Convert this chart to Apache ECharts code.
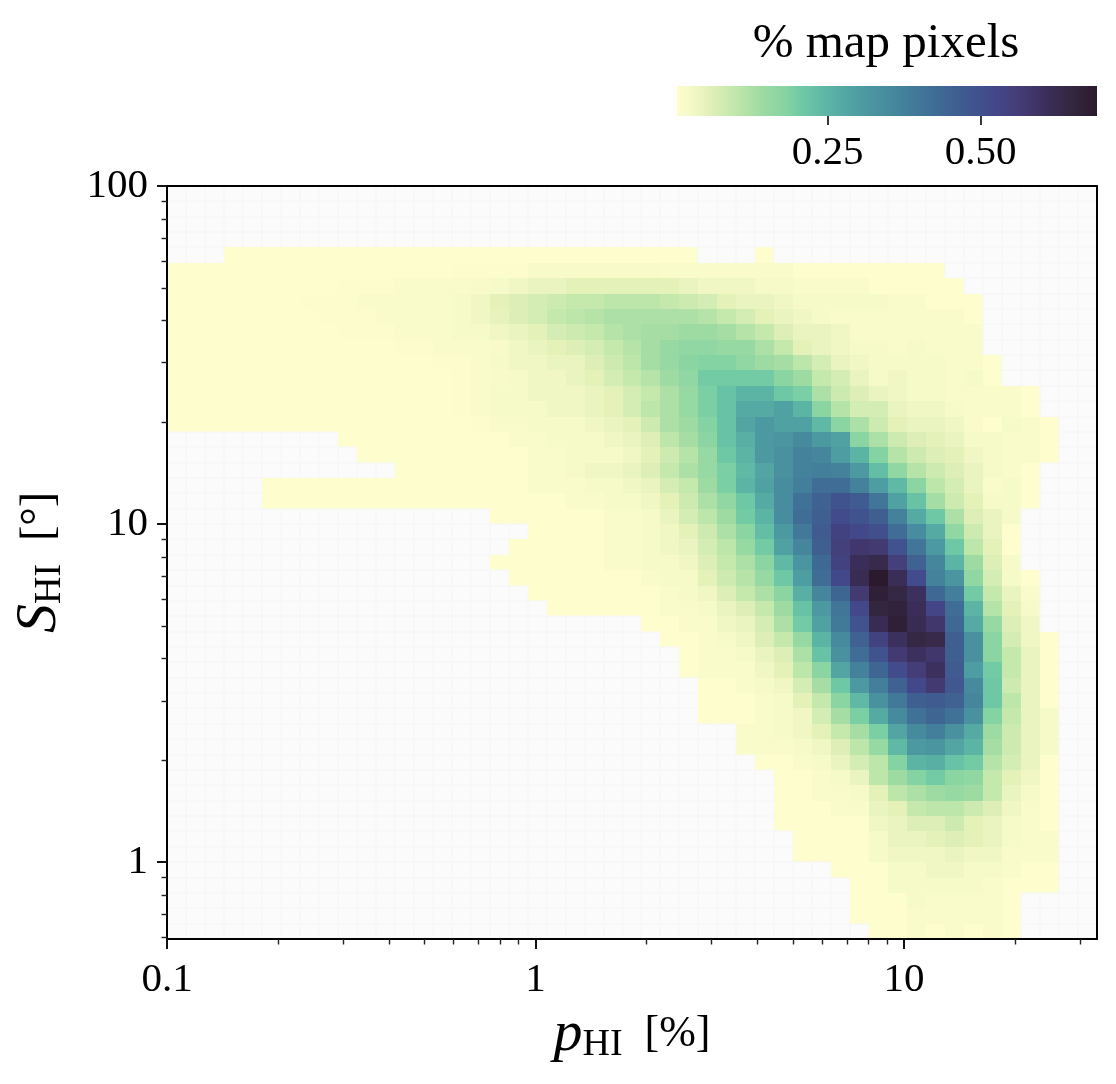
<!DOCTYPE html>
<html><head><meta charset="utf-8">
<style>html,body{margin:0;padding:0;background:#fff}#c{width:1116px;height:1084px}</style>
<script src="https://cdn.jsdelivr.net/npm/echarts@6/dist/echarts.min.js"></script>
</head><body><div id="c"></div>
<script>
// Axis definitions
const xRange = [0.1, 33.4];
const yRange = [0.592, 100];
const colCount = 49;
const rowCount = 49;
const xMajor = [0.1, 1, 10];
const xMinor = [0.2,0.3,0.4,0.5,0.6,0.7,0.8,0.9,2,3,4,5,6,7,8,9,20,30];
const yMajor = [1, 10, 100];
const yMinor = [0.6,0.7,0.8,0.9,2,3,4,5,6,7,8,9,20,30,40,50,60,70,80,90];
const barTicks = [0.25, 0.5];
const barRange = [0.004, 0.69];
const rampColors = ['#fdfdcd','#f6f9c8','#eef6c2','#e0f0b8','#cdebb0','#b5e3a8','#9edba3','#85d3a2','#72cba5','#5fb8a5','#52a5a3','#4a95a0','#44829c','#3f6d96','#3f5b90','#43488b','#443a72','#3a2e58','#33263f','#2b1a2e'];
const rampStops = [0,.029,.05,.08,.116,.16,.2,.26,.29,.35,.405,.464,.536,.61,.68,.754,.826,.884,.942,1];
// Share of map pixels in hundredths of a percent, top row first; cell omitted = no pixels.
// rowStart: index of the first filled column in each row.
const rowStart = [0,0,0,0,3,0,0,0,0,0,0,0,0,0,0,0,9,10,12,5,5,17,19,18,17,18,19,20,25,26,27,27,28,28,28,30,30,31,32,32,32,32,33,33,35,36,36,36,37];
const N = null;
const rowValues = [
[],[],[],[],
[0,0,0,0,0,0,0,0,0,0,0,0,0,0,0,0,0,0,0,0,0,0,0,0,0,N,N,N,0],
[0,0,0,0,0,0,0,0,0,0,0,0,0,0,0,.5,.5,.5,.5,1.5,1.5,1.5,1.5,1.5,1.5,1.5,1,1,1,1,1,1,1,0,0,0,0,0,0,0,0],
[0,0,0,0,0,0,0,0,0,.5,.5,.5,1,1,1,1,1.5,2,3,4,4,5,5,5,5,5,5,4,3,3,3,2,2,1,1,1,1,0,0,0,0,0],
[0,0,0,0,0,0,0,.5,.5,.5,1,1,1,1,1,2,3,5,6,7,8,9,9,10,10,10,9,8,7,5,4,4,3,2,2,2,2,2,1,1,0,0,0],
[0,0,0,0,0,0,0,0,.5,.5,.5,1,1,1,1,2,3,4.5,6,7,9,10,11,12,12,12,12,12,11,9,7,5,4,3,2,1,1,1,1,1,1,1,0],
[0,0,0,0,0,0,0,0,0,.5,.5,.5,1,1,1,2,2,3,4,5,7,8,9,11,12,13,13,14,14,13,11,9,6,4,4,3,1,1,1,1,1,1,1],
[0,0,0,0,0,0,0,0,0,0,0,0,.5,.5,1,1,1,1.5,3,4,5,6,7,9,11,13,15,16,16,15,15,12,9,5,4,3,2,2,1,2,1,1,1],
[0,0,0,0,0,0,0,0,0,0,0,0,0,0,.5,.5,1,2,3,3,4,4,6,8,10,13,15,17,18,18,16,14,13,10,7,4,3,2,2,2,2,1,1,0],
[0,0,0,0,0,0,0,0,0,0,0,0,0,0,0,.5,1,1.5,2,3,3,4,5,7,9,11,14,16,20,20,20,20,17,14,9,7,4,2,3,2,2,1,2,0],
[0,0,0,0,0,0,0,0,0,0,0,0,0,0,0,.5,1,2,2,3,3,3,4,5,7,9,12,15,19,22,25,25,21,19,12,8,6,4,3,2,2,1,1,1,1,0],
[0,0,0,0,0,0,0,0,0,0,0,0,0,0,0,.5,1,2,2,2,3,3,4,5,7,10,12,15,19,22,27,27,29,25,17,11,7,7,4,3,3,2,1,1,1,0],
[0,0,0,0,0,0,0,0,0,0,0,0,0,0,0,0,.5,1,1,2,2,2,3,4,5,8,12,14,18,22,28,31,29,29,24,17,12,8,5,4,4,3,1,0,2,1,0],
[0,0,0,0,0,0,0,0,0,1,1,2,2,2,3,4,6,10,13,17,22,26,31,32,35,31,29,17,12,8,6,5,4,2,2,1,1,0],
[0,0,0,0,0,0,0,0,0,1,1,2,2,2,3,5,8,11,15,21,25,31,33,37,36,30,25,18,11,8,6,5,3,2,1,1,0],
[0,0,0,0,0,0,0,1,1,2,3,3,4,6,9,12,15,19,24,28,33,37,38,37,31,23,16,11,8,6,4,2,1,0],
[0,0,0,0,0,0,0,0,0,0,0,0,0,0,1,1,1,2,2,3,4,7,9,14,19,25,29,34,38,42,42,37,30,24,17,10,7,4,1,2,0],
[0,0,0,0,0,0,0,0,0,0,0,0,0,0,0,0,1,1,2,2,3,5,8,12,16,21,27,34,41,45,49,47,40,29,22,13,8,5,2,2,0],
[0,0,0,0,0,0,1,1,2,4,7,10,14,20,25,34,42,46,51,49,46,37,27,21,12,6,4,2],
[0,0,0,0,1,1,2,3,5,8,12,17,23,31,39,47,54,52,50,42,34,27,16,8,4,0],
[0,0,0,0,0,1,1,2,3,4,7,10,15,20,29,36,46,55,58,57,49,40,31,21,10,5,0],
[0,0,0,0,0,0,1,1,2,2,3,6,9,12,17,24,32,43,54,61,63,55,45,36,25,14,6,2],
[0,0,0,0,0,0,0,1,2,2,5,8,11,15,21,30,42,52,62,69,61,51,37,32,16,7,2,0],
[0,0,0,0,0,0,0,1,2,3,6,9,12,17,26,36,44,57,67,64,60,43,38,20,9,4,1],
[0,0,0,0,0,0,1,1,2,4,6,9,14,22,31,40,52,65,66,61,53,42,25,11,5,2],
[0,0,1,1,3,4,7,12,20,29,39,49,62,67,62,58,43,27,15,6,3],
[0,0,1,2,3,6,9,15,25,35,45,54,60,64,63,46,33,17,7,3,0],
[0,1,1,2,4,6,12,22,33,42,49,57,60,58,46,33,17,9,4,0],
[0,1,1,1,3,5,10,17,28,37,44,51,56,60,47,30,20,9,4,0],
[0,0,1,2,3,7,13,21,31,38,45,52,57,48,35,21,8,4,0],
[0,0,0,1,2,5,9,17,24,33,39,46,47,45,36,21,10,4,0],
[0,0,0,1,2,3,7,13,19,27,35,41,44,41,33,18,9,4,2],
[1,1,2,3,5,9,13,19,28,35,38,33,27,14,8,4,2],
[1,1,1,2,3,6,10,15,24,31,32,28,25,13,8,4,2],
[0,0,1,2,4,7,10,18,25,26,22,20,11,7,4,0],
[0,0,1,2,4,10,14,18,20,17,16,9,5,3,0],
[0,0,1,1,2,5,10,12,14,15,14,9,4,2,0],
[0,0,0,1,1,4,5,9,10,10,8,6,3,1,0],
[0,0,0,0,0,3,4,6,6,8,5,4,2,1,0],
[0,0,0,0,2,4,4,5,6,5,4,2,1,1],
[0,0,0,0,2,3,3,3,4,3,3,1,1,1],
[0,0,0,2,2,3,3,2,2,1,0,0],
[0,0,2,2,2,2,2,1,0,0,0],
[0,0,0,2,1,1,1,1,0],
[0,0,0,1,1,1,1,1,0],
[0,0,1,0,1,0,1,0]
];

const lx0 = Math.log10(xRange[0]), lx1 = Math.log10(xRange[1]);
const ly0 = Math.log10(yRange[0]), ly1 = Math.log10(yRange[1]);
const xEdge = i => Math.pow(10, lx0 + (lx1 - lx0) * i / colCount);
const yEdge = k => Math.pow(10, ly1 - (ly1 - ly0) * k / rowCount);

const cells = [];
for (let k = 0; k < rowCount; k++) for (let i = 0; i < colCount; i++) {
  const j = i - rowStart[k];
  const row = rowValues[k];
  const v = (j >= 0 && j < row.length && row[j] !== null) ? row[j] / 100 : null;
  cells.push([xEdge(i + .5), yEdge(k + .5), v, i, k]);
}

const serif = '"Liberation Serif","DejaVu Serif",serif';
const labelFont = 41;
const fmt = v => String(Number(Number(v).toPrecision(3)));
const frameColor = '#000';

function logAxis(range, pos, majors, minors, kind) {
  const base = {type:'log', z:5, min:range[0], max:range[1], logBase:10, gridIndex:0, position:pos, splitLine:{show:false}, minorTick:{show:false}, minorSplitLine:{show:false}, axisLine:{show:true, onZero:false, lineStyle:{color:frameColor, width:2}}};
  if (kind === 'major') return Object.assign(base, {
    axisTick:{show:true, length:10, inside:false, customValues:majors, lineStyle:{color:'#111', width:2}},
    axisLabel:{show:true, customValues:majors, formatter:fmt, fontFamily:serif, fontSize:labelFont, color:'#000', margin:pos==='bottom'?21:19, hideOverlap:false, showMinLabel:true, showMaxLabel:true}
  });
  if (kind === 'minor') return Object.assign(base, {
    axisTick:{show:true, length:5.5, customValues:minors, lineStyle:{color:'#222', width:1.4}},
    axisLabel:{show:false}
  });
  return Object.assign(base, {axisTick:{show:false}, axisLabel:{show:false}});
}

const xMain = logAxis(xRange,'bottom',xMajor,xMinor,'major');
xMain.name = '{i|p}{s|HI}{t|  [%]}';
xMain.nameLocation = 'middle';
xMain.nameGap = 66;
xMain.nameTextStyle = {rich:{
  i:{fontFamily:serif, fontStyle:'italic', fontSize:58, color:'#000'},
  s:{fontFamily:serif, fontSize:38, color:'#000', padding:[20,0,0,0]},
  t:{fontFamily:serif, fontSize:44, color:'#000'}
}};
const yMain = logAxis(yRange,'left',yMajor,yMinor,'major');
yMain.name = '{i|S}{s|HI}{t|  [°]}';
yMain.nameLocation = 'middle';
yMain.nameGap = 98;
yMain.nameTextStyle = {rich:{
  i:{fontFamily:serif, fontStyle:'italic', fontSize:58, color:'#000'},
  s:{fontFamily:serif, fontSize:38, color:'#000', padding:[20,0,0,0]},
  t:{fontFamily:serif, fontSize:46, color:'#000'}
}};

const toRgb = h => [1,3,5].map(p=>parseInt(h.substr(p,2),16));
const sampledRamp = [];
for (let s = 0; s <= 100; s++) {
  const t = s / 100;
  let n = 0;
  while (n < rampStops.length - 2 && t > rampStops[n+1]) n++;
  const f = (t - rampStops[n]) / (rampStops[n+1] - rampStops[n]);
  const A = toRgb(rampColors[n]), B = toRgb(rampColors[n+1]);
  sampledRamp.push('rgb(' + A.map((q,m)=>Math.round(q + (B[m]-q)*f)).join(',') + ')');
}

const option = {
  backgroundColor:'#fff',
  animation:false,
  title:{text:'% map pixels', left:881, top:15, textAlign:'center', textStyle:{fontFamily:serif, fontWeight:'normal', fontSize:49, color:'#000'}},
  grid:[
    {left:167, top:186, width:930, height:753, containLabel:false, outerBoundsMode:'none'},
    {left:677, top:86, width:420, height:30, containLabel:false, outerBoundsMode:'none'}
  ],
  xAxis:[
    xMain,
    logAxis(xRange,'bottom',xMajor,xMinor,'minor'),
    logAxis(xRange,'top',xMajor,xMinor,'frame'),
    {type:'value', gridIndex:1, min:barRange[0], max:barRange[1], position:'bottom', splitLine:{show:false},
     axisLine:{show:false}, axisTick:{show:true, length:9, customValues:barTicks, lineStyle:{color:'#222', width:1.8}},
     axisLabel:{show:true, customValues:barTicks, formatter:v=>Number(v).toFixed(2), fontFamily:serif, fontSize:labelFont, color:'#000', margin:17}}
  ],
  yAxis:[
    yMain,
    logAxis(yRange,'left',yMajor,yMinor,'minor'),
    logAxis(yRange,'right',yMajor,yMinor,'frame'),
    {type:'value', gridIndex:1, min:0, max:1, show:false}
  ],
  visualMap:{
    type:'continuous', show:false, seriesIndex:0, dimension:2, min:0, max:barRange[1],
    inRange:{color:sampledRamp}, outOfRange:{color:'#fbfbfb'}
  },
  series:[{
    type:'custom', xAxisIndex:0, yAxisIndex:0, silent:true, clip:true,
    encode:{x:0, y:1}, data:cells, z:1,
    renderItem(params, api){
      const i = api.value(3), k = api.value(4), v = api.value(2);
      const a = api.coord([xEdge(i), yEdge(k)]);
      const b = api.coord([xEdge(i+1), yEdge(k+1)]);
      const x = Math.round(a[0]), y = Math.round(a[1]);
      const w = Math.round(b[0]) - x, h = Math.round(b[1]) - y;
      const empty = v === null || isNaN(v);
      return {type:'rect', shape:{x, y, width:w, height:h},
        style: empty ? {fill:'#fbfbfb', stroke:'#f6f6f6', lineWidth:1} : {fill:api.visual('color')}};
    }
  },{
    type:'custom', xAxisIndex:3, yAxisIndex:3, silent:true, clip:false,
    encode:{x:0, y:1}, data:[[barRange[0],0,barRange[1],1]],
    renderItem(params, api){
      const a = api.coord([api.value(0), api.value(3)]);
      const b = api.coord([api.value(2), api.value(1)]);
      return {type:'rect', shape:{x:a[0], y:a[1], width:b[0]-a[0], height:b[1]-a[1]},
        style:{fill:new echarts.graphic.LinearGradient(0,0,1,0, rampColors.map((c,n)=>({offset:rampStops[n], color:c})))}};
    }
  }]
};
echarts.init(document.getElementById('c')).setOption(option);
</script></body></html>
